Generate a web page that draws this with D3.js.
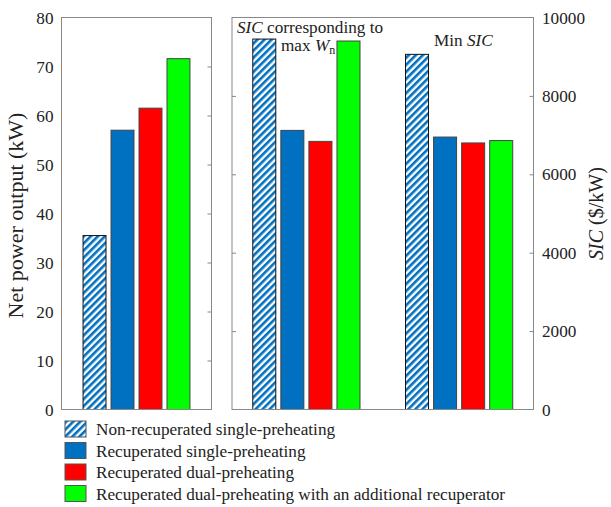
<!DOCTYPE html>
<html>
<head>
<meta charset="utf-8">
<script src="https://cdn.jsdelivr.net/npm/d3@7"></script>
<style>
  html, body { margin: 0; padding: 0; background: #fff; }
  svg { display: block; font-family: "Liberation Serif", "Times New Roman", serif; }
</style>
</head>
<body>
<svg id="chart" width="611" height="507"></svg>
<script>
// Configurations compared
const series = [
  "Non-recuperated single-preheating",
  "Recuperated single-preheating",
  "Recuperated dual-preheating",
  "Recuperated dual-preheating with an additional recuperator"
];
const seriesColors = ["#0070C0", "#0070C0", "#FF0000", "#00FF00"];

// Net power output (kW) per configuration
const netPower = [35.5, 57.0, 61.5, 71.6];

// Specific investment cost ($/kW), two cases
const sicGroups = ["maxW", "minSIC"];
const sicAtMaxW = [9450, 7120, 6840, 9400];
const sicMin = [9060, 6950, 6800, 6860];

const powerTicks = [0, 10, 20, 30, 40, 50, 60, 70, 80];
const sicTicks = [0, 2000, 4000, 6000, 8000, 10000];

(function draw() {
  const svg = d3.select("#chart");
  const frameColor = "#888888";
  const yTop = 17.5, yBot = 409.5;
  const tickLen = 4;
  const fs = 17.2;

  // Diagonal hatch for the non-recuperated case
  const defs = svg.append("defs");
  const pat = defs.append("pattern")
    .attr("id", "hatch")
    .attr("patternUnits", "userSpaceOnUse")
    .attr("width", 5).attr("height", 5)
    .attr("patternTransform", "rotate(45)");
  pat.append("rect").attr("width", 5).attr("height", 5).attr("fill", "#fff");
  pat.append("rect").attr("x", 0).attr("y", 0).attr("width", 2.6).attr("height", 5).attr("fill", "#0070C0");

  const fillFor = i => i === 0 ? "url(#hatch)" : seriesColors[i];
  const strokeFor = i => i === 0 ? "#111" : "#444";

  // ---------- Left panel: net power ----------
  const L = { x0: 61.5, x1: 211.5 };
  const xL = d3.scaleBand().domain(d3.range(series.length)).range([L.x0, L.x1])
    .paddingInner(0.18).paddingOuter(0.77);
  const yL = d3.scaleLinear().domain([0, 80]).range([yBot, yTop]);

  const gL = svg.append("g");
  gL.selectAll("rect.bar").data(netPower).join("rect")
    .attr("class", "bar")
    .attr("x", (d, i) => xL(i))
    .attr("width", xL.bandwidth())
    .attr("y", d => yL(d))
    .attr("height", d => yL(0) - yL(d))
    .attr("fill", (d, i) => fillFor(i))
    .attr("stroke", (d, i) => strokeFor(i))
    .attr("stroke-width", 1);

  gL.append("rect")
    .attr("x", L.x0).attr("y", yTop)
    .attr("width", L.x1 - L.x0).attr("height", yBot - yTop)
    .attr("fill", "none").attr("stroke", frameColor).attr("stroke-width", 1);

  // left tick labels
  const axL = gL.append("g").attr("transform", `translate(${L.x0},0)`)
    .call(d3.axisLeft(yL).tickValues(powerTicks).tickSize(0).tickPadding(8));
  axL.select(".domain").remove();
  axL.selectAll("text").attr("font-size", fs).attr("font-family", "Liberation Serif").attr("fill", "#222");

  // inward ticks on the right edge
  const axLr = gL.append("g").attr("transform", `translate(${L.x1},0)`)
    .call(d3.axisRight(yL).tickValues(powerTicks.slice(1, -1)).tickSize(-tickLen).tickFormat(""));
  axLr.select(".domain").remove();
  axLr.selectAll("line").attr("stroke", frameColor);

  gL.append("text")
    .attr("transform", `translate(23,${(yTop + yBot) / 2 + 2}) rotate(-90)`)
    .attr("text-anchor", "middle")
    .attr("font-size", 22)
    .attr("fill", "#222")
    .text("Net power output (kW)");

  // ---------- Right panel: SIC ----------
  const R = { x0: 232, x1: 533.5 };
  const x0R = d3.scaleBand().domain(sicGroups).range([R.x0, R.x1])
    .paddingInner(0.298).paddingOuter(0.136);
  const x1R = d3.scaleBand().domain(d3.range(series.length)).range([0, x0R.bandwidth()])
    .paddingInner(0.18).paddingOuter(0);
  const yR = d3.scaleLinear().domain([0, 10000]).range([yBot, yTop]);

  const sicData = [
    { group: "maxW", values: sicAtMaxW },
    { group: "minSIC", values: sicMin }
  ];

  const gR = svg.append("g");
  const grp = gR.selectAll("g.grp").data(sicData).join("g")
    .attr("class", "grp")
    .attr("transform", d => `translate(${x0R(d.group)},0)`);
  grp.selectAll("rect").data(d => d.values).join("rect")
    .attr("x", (d, i) => x1R(i))
    .attr("width", x1R.bandwidth())
    .attr("y", d => yR(d))
    .attr("height", d => yR(0) - yR(d))
    .attr("fill", (d, i) => fillFor(i))
    .attr("stroke", (d, i) => strokeFor(i))
    .attr("stroke-width", 1);

  gR.append("rect")
    .attr("x", R.x0).attr("y", yTop)
    .attr("width", R.x1 - R.x0).attr("height", yBot - yTop)
    .attr("fill", "none").attr("stroke", frameColor).attr("stroke-width", 1);

  // inward ticks, left edge
  const axRl = gR.append("g").attr("transform", `translate(${R.x0},0)`)
    .call(d3.axisLeft(yR).tickValues(sicTicks.slice(1, -1)).tickSize(-tickLen).tickFormat(""));
  axRl.select(".domain").remove();
  axRl.selectAll("line").attr("stroke", frameColor);

  // inward ticks + labels, right edge
  const axRr = gR.append("g").attr("transform", `translate(${R.x1},0)`)
    .call(d3.axisRight(yR).tickValues(sicTicks).tickSize(-tickLen).tickPadding(8 + tickLen).tickFormat(d3.format("d")));
  axRr.select(".domain").remove();
  axRr.selectAll("line").attr("stroke", frameColor)
    .attr("display", d => (d === 0 || d === 10000) ? "none" : null);
  axRr.selectAll("text").attr("x", 8.5)
    .attr("font-size", fs).attr("font-family", "Liberation Serif").attr("fill", "#222");

  const rl = gR.append("text")
    .attr("transform", `translate(603,${(yTop + yBot) / 2}) rotate(-90)`)
    .attr("text-anchor", "middle")
    .attr("font-size", 20)
    .attr("fill", "#222");
  rl.append("tspan").attr("font-style", "italic").text("SIC");
  rl.append("tspan").text(" ($/kW)");

  // group annotations
  const a1 = gR.append("text").attr("x", 237).attr("y", 33).attr("font-size", fs).attr("fill", "#222");
  a1.append("tspan").attr("font-style", "italic").text("SIC");
  a1.append("tspan").text(" corresponding to");
  const a2 = gR.append("text").attr("x", 281).attr("y", 51).attr("font-size", fs).attr("fill", "#222");
  a2.append("tspan").text("max ");
  a2.append("tspan").attr("font-style", "italic").text("W");
  a2.append("tspan").attr("font-size", 12).attr("dy", 3).text("n");
  const a3 = gR.append("text").attr("x", 434).attr("y", 46).attr("font-size", fs).attr("fill", "#222");
  a3.append("tspan").text("Min ");
  a3.append("tspan").attr("font-style", "italic").text("SIC");

  // ---------- Legend ----------
  const lg = svg.append("g").attr("transform", "translate(65,421)");
  const row = lg.selectAll("g").data(series).join("g")
    .attr("transform", (d, i) => `translate(0,${i * 21.5})`);
  row.append("rect")
    .attr("width", 21).attr("height", 16)
    .attr("fill", (d, i) => fillFor(i))
    .attr("stroke", "#555").attr("stroke-width", 1);
  row.append("text")
    .attr("x", 31).attr("y", 14)
    .attr("font-size", fs).attr("fill", "#222")
    .text(d => d);
})();
</script>
</body>
</html>
